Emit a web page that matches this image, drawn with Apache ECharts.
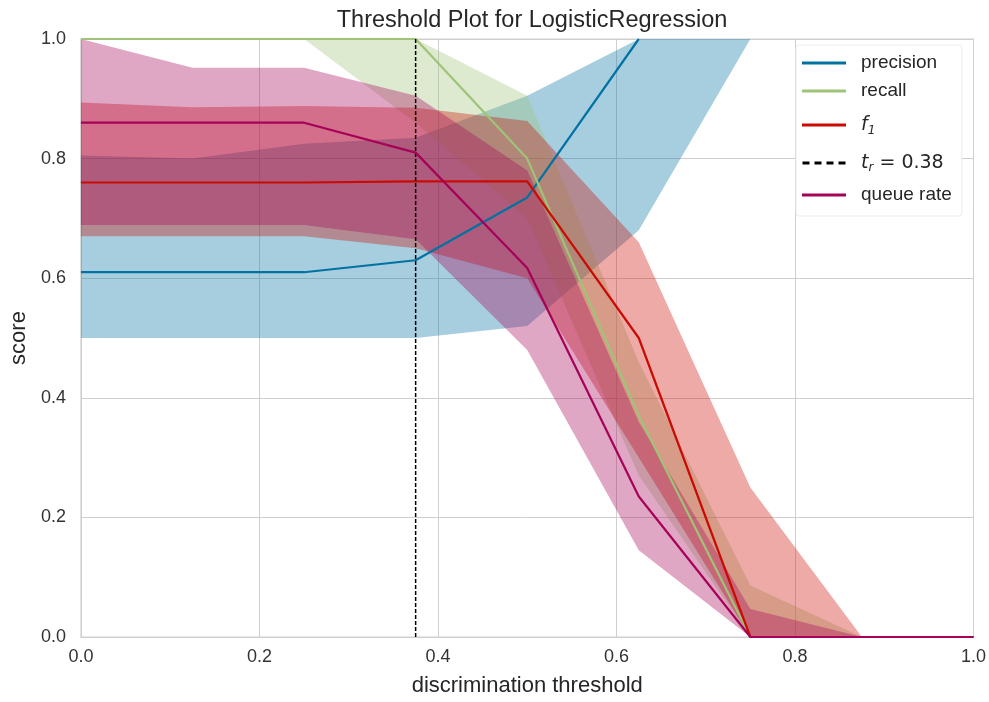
<!DOCTYPE html>
<html>
<head>
<meta charset="utf-8">
<title>Threshold Plot</title>
<script src="https://cdn.jsdelivr.net/npm/echarts@6/dist/echarts.min.js"></script>
<style>
  html, body { margin: 0; padding: 0; background: #fff; }
  #chart { width: 989px; height: 702px; }
</style>
</head>
<body>
<div id="chart"></div>
<script>
// thresholds at which the metrics were evaluated
const thresholds = [0, 0.125, 0.25, 0.375, 0.5, 0.625, 0.75, 0.875, 1.0];

// medians (precision is undefined once nothing is predicted positive)
const precision = [0.61, 0.61, 0.61, 0.63, 0.735, 1.0, null, null, null];
const recall    = [1.0, 1.0, 1.0, 1.0, 0.80, 0.37, 0.0, 0.0, 0.0];
const f1        = [0.76, 0.76, 0.76, 0.762, 0.762, 0.50, 0.0, 0.0, 0.0];
const queueRate = [0.86, 0.86, 0.86, 0.81, 0.617, 0.235, 0.0, 0.0, 0.0];

// lower / upper quantile bands
const precisionLow  = [0.50, 0.50, 0.50, 0.50, 0.52, 0.68, 1.0, 1.0, 1.0];
const precisionHigh = [0.805, 0.80, 0.825, 0.835, 0.905, 1.0, 1.0, 1.0, 1.0];
const recallLow     = [1.0, 1.0, 1.0, 0.86, 0.70, 0.27, 0.0, 0.0, 0.0];
const recallHigh    = [1.0, 1.0, 1.0, 1.0, 0.905, 0.46, 0.086, 0.0, 0.0];
const f1Low         = [0.67, 0.67, 0.67, 0.65, 0.60, 0.30, 0.0, 0.0, 0.0];
const f1High        = [0.894, 0.886, 0.888, 0.885, 0.863, 0.66, 0.25, 0.0, 0.0];
const queueLow      = [0.689, 0.689, 0.689, 0.665, 0.48, 0.145, 0.0, 0.0, 0.0];
const queueHigh     = [1.0, 0.952, 0.952, 0.905, 0.78, 0.36, 0.047, 0.0, 0.0];

const threshold = 0.375;
const thresholdLabel = '0.38';

const colors = {
  precision: '#0272a2',
  recall: '#9fc377',
  f1: '#ca0b03',
  queue: '#a50258',
};

const pairs = (ys) => thresholds.map((x, i) => [x, ys[i]]);

// fill between lo and hi, drawn as one polygon through the axes' coord()
function band(id, lo, hi, color) {
  return {
    name: id + '-band',
    type: 'custom',
    data: thresholds.map((x, i) => [x, lo[i], hi[i]]),
    encode: { x: 0, y: [1, 2] },
    silent: true,
    clip: true,
    z: 1,
    renderItem: function (params, api) {
      if (params.dataIndex !== 0) return null;
      const top = thresholds.map((x, i) => api.coord([x, hi[i]]));
      const bottom = thresholds.map((x, i) => api.coord([x, lo[i]])).reverse();
      return {
        type: 'polygon',
        shape: { points: top.concat(bottom) },
        style: { fill: color, opacity: 0.35 },
      };
    },
  };
}

function metric(name, ys, color) {
  return {
    name: name,
    type: 'line',
    data: pairs(ys),
    symbol: 'none',
    lineStyle: { color: color, width: 2.2 },
    itemStyle: { color: color },
    z: 3,
  };
}

const solidIcon = 'path://M0,0H44V3H0Z';
const dashIcon = 'path://M0,0H7V3H0Z M12,0H19V3H12Z M24,0H31V3H24Z M36,0H43V3H36Z';
const font = 'Liberation Sans, Arial, sans-serif';
const mathFont = 'DejaVu Sans';

const chart = echarts.init(document.getElementById('chart'));
chart.setOption({
  animation: false,
  backgroundColor: '#fff',
  title: {
    text: 'Threshold Plot for LogisticRegression',
    left: 527,
    textAlign: 'center',
    top: 4,
    textStyle: { fontFamily: font, fontSize: 23.5, fontWeight: 'normal', color: '#262626' },
  },
  grid: {
    left: 78,
    right: 13,
    top: 39,
    bottom: 60,
    show: true,
    borderColor: '#cfcfcf',
    borderWidth: 1,
    backgroundColor: '#fff',
  },
  legend: {
    data: [
      { name: 'precision', icon: solidIcon },
      { name: 'recall', icon: solidIcon },
      { name: 'f1', icon: solidIcon },
      { name: 't', icon: dashIcon },
      { name: 'queue rate', icon: solidIcon },
    ],
    orient: 'vertical',
    left: 796,
    top: 45,
    padding: [7, 10, 10, 6],
    itemWidth: 44,
    itemHeight: 3,
    itemGap: 6,
    backgroundColor: '#fff',
    borderColor: '#ececec',
    borderWidth: 1,
    borderRadius: 3,
    formatter: function (name) {
      if (name === 'f1') return '{fi|f}{fs|1}';
      if (name === 't') return '{ti|t}{ts|r}{tn| = ' + thresholdLabel + '}';
      return name;
    },
    textStyle: {
      fontFamily: font,
      fontSize: 19,
      color: '#262626',
      lineHeight: 22,
      padding: [0, 0, 0, 10],
      rich: {
        fi: { fontFamily: mathFont, fontStyle: 'italic', fontSize: 19, lineHeight: 34, color: '#262626' },
        fs: { fontFamily: mathFont, fontStyle: 'italic', fontSize: 12, lineHeight: 34, color: '#262626', padding: [12, 0, 0, 0] },
        ti: { fontFamily: mathFont, fontStyle: 'italic', fontSize: 19, lineHeight: 30, color: '#262626' },
        ts: { fontFamily: mathFont, fontStyle: 'italic', fontSize: 12, lineHeight: 30, color: '#262626', padding: [10, 0, 0, 0] },
        tn: { fontFamily: mathFont, fontSize: 19, lineHeight: 30, color: '#262626' },
      },
    },
  },
  xAxis: {
    type: 'value',
    min: 0,
    max: 1,
    interval: 0.2,
    name: 'discrimination threshold',
    nameLocation: 'middle',
    nameGap: 38,
    nameTextStyle: { fontFamily: font, fontSize: 22, color: '#262626' },
    axisLine: { show: true, lineStyle: { color: '#cfcfcf' } },
    axisTick: { show: false },
    axisLabel: {
      margin: 11,
      fontFamily: font,
      fontSize: 18,
      color: '#333',
      formatter: (v) => v.toFixed(1),
    },
    splitLine: { show: true, lineStyle: { color: '#cfcfcf', width: 1 } },
  },
  yAxis: {
    type: 'value',
    min: 0,
    max: 1,
    interval: 0.2,
    name: 'score',
    nameLocation: 'middle',
    nameGap: 50,
    nameTextStyle: { fontFamily: font, fontSize: 22, color: '#262626' },
    axisLine: { show: true, lineStyle: { color: '#cfcfcf' } },
    axisTick: { show: false },
    axisLabel: {
      margin: 15,
      fontFamily: font,
      fontSize: 18,
      color: '#333',
      formatter: (v) => v.toFixed(1),
    },
    splitLine: { show: true, lineStyle: { color: '#cfcfcf', width: 1 } },
  },
  series: [
    band('precision', precisionLow, precisionHigh, colors.precision),
    band('recall', recallLow, recallHigh, colors.recall),
    band('f1', f1Low, f1High, colors.f1),
    band('queue', queueLow, queueHigh, colors.queue),
    metric('precision', precision, colors.precision),
    metric('recall', recall, colors.recall),
    metric('f1', f1, colors.f1),
    {
      name: 't',
      type: 'line',
      data: [[threshold, 0], [threshold, 1]],
      symbol: 'none',
      lineStyle: { color: '#000', width: 1.5, type: [4, 2] },
      itemStyle: { color: '#000' },
      z: 3,
    },
    metric('queue rate', queueRate, colors.queue),
  ],
});
</script>
</body>
</html>
